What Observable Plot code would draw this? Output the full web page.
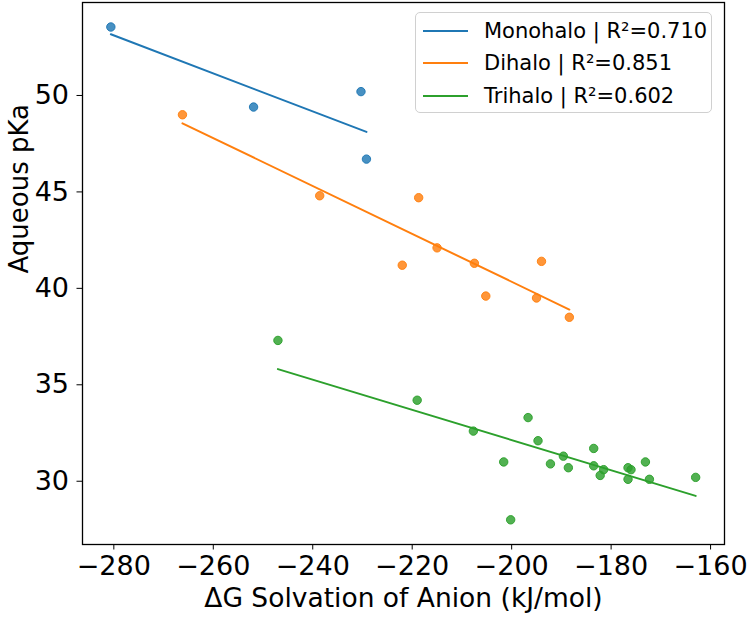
<!DOCTYPE html>
<html>
<head>
<meta charset="utf-8">
<script src="https://cdn.jsdelivr.net/npm/d3@7"></script>
<script src="https://cdn.jsdelivr.net/npm/@observablehq/plot@0.6"></script>
<style>
  html, body { margin: 0; padding: 0; background: #fff; }
  #wrap { position: relative; width: 750px; height: 617px; font-family: "DejaVu Sans", sans-serif; }
  #legend {
    position: absolute; left: 415px; top: 12px; width: 297px; height: 101px;
    border: 1px solid #d0d0d0; border-radius: 5px; background: rgba(255,255,255,0.85);
    box-sizing: border-box;
  }
  .row { position: absolute; left: 0; height: 30px; display: flex; align-items: center; font-size: 21px; color: #000; white-space: nowrap; }
  .sw { display: inline-block; width: 45px; height: 2px; margin-left: 7px; margin-right: 16px; }
</style>
</head>
<body>
<div id="wrap"></div>
<script>
// ---- data ----
const seriesNames = ["Monohalo", "Dihalo", "Trihalo"];
const seriesColors = ["#1f77b4", "#ff7f0e", "#2ca02c"];
const legendLabels = ["Monohalo | R²=0.710", "Dihalo | R²=0.851", "Trihalo | R²=0.602"];

const monoX = [-280.6, -251.9, -230.3, -229.2];
const monoY = [53.55, 49.4, 50.2, 46.7];

const diX = [-266.2, -238.6, -218.7, -215.0, -222.0, -207.5, -205.2, -194.0, -195.0, -188.4];
const diY = [49.0, 44.8, 44.7, 42.1, 41.2, 41.3, 39.6, 41.4, 39.5, 38.5];

const triX = [-247.0, -219.0, -207.7, -201.6, -200.2, -196.7, -194.7, -192.2, -189.6, -188.6,
              -183.5, -183.5, -181.5, -182.2, -176.6, -176.0, -176.6, -173.1, -172.3, -163.0];
const triY = [37.3, 34.2, 32.6, 31.0, 28.0, 33.3, 32.1, 30.9, 31.3, 30.7,
              31.7, 30.8, 30.6, 30.3, 30.7, 30.6, 30.1, 31.0, 30.1, 30.2];

const xTicks = [-280, -260, -240, -220, -200, -180, -160];
const yTicks = [30, 35, 40, 45, 50];
const xLabel = "ΔG Solvation of Anion (kJ/mol)";
const yLabel = "Aqueous pKa";

// ---- build table ----
const rows = [];
[[monoX, monoY], [diX, diY], [triX, triY]].forEach(([xs, ys], i) => {
  xs.forEach((x, j) => rows.push({group: seriesNames[i], x, y: ys[j]}));
});

const font = "DejaVu Sans";
const chart = Plot.plot({
  width: 750,
  height: 617,
  marginLeft: 82,
  marginRight: 26,
  marginTop: 2,
  marginBottom: 73,
  style: {fontFamily: font, background: "#fff", color: "#000"},
  x: {domain: [-286.3, -157.2]},
  y: {domain: [26.72, 54.82]},
  color: {domain: seriesNames, range: seriesColors},
  marks: [
    Plot.axisX({ticks: xTicks, tickSize: 5.5, tickPadding: 5.5, fontSize: 27, stroke: "#000", label: null}),
    Plot.axisY({ticks: yTicks, tickSize: 5.5, tickPadding: 8, fontSize: 27, stroke: "#000", label: null}),
    Plot.text([xLabel], {text: d => d, frameAnchor: "bottom", dy: 62, fontSize: 26.5, fill: "#000"}),
    Plot.text([yLabel], {text: d => d, frameAnchor: "left", rotate: -90, dx: -63, fontSize: 26, fill: "#000"}),
    Plot.linearRegressionY(rows, {x: "x", y: "y", stroke: "group", ci: 0, strokeWidth: 2}),
    Plot.dot(rows, {x: "x", y: "y", fill: "group", stroke: "group", r: 4.2,
      fillOpacity: 0.82, strokeOpacity: 0.95, strokeWidth: 1}),
    Plot.frame({stroke: "#000", strokeWidth: 1.3})
  ]
});
const wrap = document.getElementById("wrap");
wrap.appendChild(chart);

// ---- legend ----
const legend = document.createElement("div");
legend.id = "legend";
legendLabels.forEach((lab, i) => {
  const r = document.createElement("div");
  r.className = "row";
  r.style.top = (3 + i * 32.3) + "px";
  const sw = document.createElement("span");
  sw.className = "sw";
  sw.style.background = seriesColors[i];
  const tx = document.createElement("span");
  tx.textContent = lab;
  r.appendChild(sw); r.appendChild(tx);
  legend.appendChild(r);
});
wrap.appendChild(legend);
</script>
</body>
</html>
